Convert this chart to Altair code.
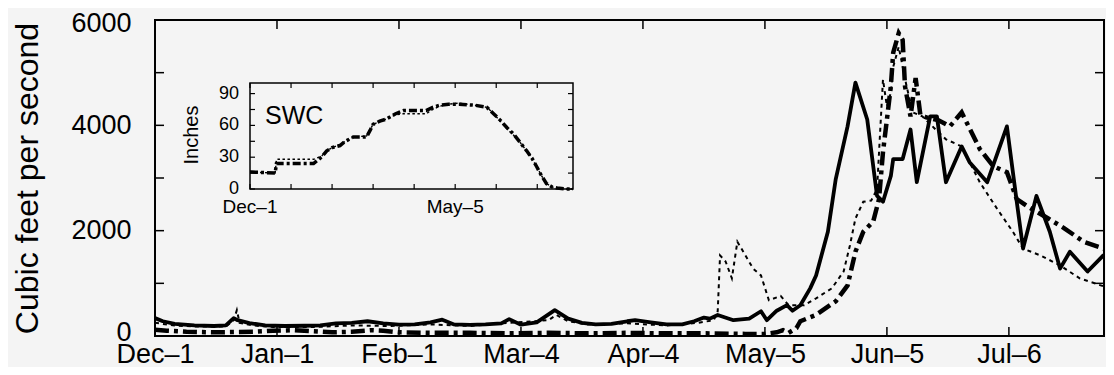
import json
import altair as alt
import pandas as pd

FONT = "Liberation Sans"

# ---- main chart: x ticks (days since Dec-1) and labels ----
tick_days = [0, 31, 62, 93, 124, 155, 186, 217]
tick_labels = ["Dec–1", "Jan–1", "Feb–1", "Mar–4", "Apr–4", "May–5", "Jun–5", "Jul–6"]
y_label_values = [0, 2000, 4000, 6000]
y_tick_values = [0, 1000, 2000, 3000, 4000, 5000, 6000]

# ---- solid series (cfs) ----
solid_day = [0, 2, 5, 10, 15, 18, 20, 21, 24, 28, 33, 38, 42, 46, 50, 54, 58, 62, 66, 70,
             73, 76, 80, 84, 88, 90, 93, 97, 101.6, 105, 108.5, 112, 116, 120, 122, 126, 130,
             134, 137, 139.5, 141, 143, 147, 151, 154, 155.5, 158, 160.6, 162, 164, 166.5,
             168, 171, 173, 176, 178, 181, 183.5, 185, 187, 187.6, 190, 192, 193.6, 197,
             198.7, 201, 205, 207, 211.5, 216.5, 219, 220.6, 224, 227.4, 230, 232.5, 237,
             241, 243.7]
solid_cfs = [340, 280, 230, 200, 190, 200, 340, 300, 245, 200, 190, 195, 200, 240, 250, 280,
             240, 215, 220, 260, 310, 220, 210, 220, 240, 320, 215, 260, 490, 330, 250, 220,
             230, 280, 300, 260, 220, 220, 280, 350, 330, 400, 300, 330, 470, 300, 480, 585,
             480, 585, 905, 1150, 1980, 2980, 3980, 4810, 4110, 2660, 2550, 3040, 3360, 3360,
             3920, 2920, 4170, 4170, 2920, 3600, 3300, 2920, 3980, 2550, 1660, 2660, 1980,
             1280, 1600, 1225, 1530, 1415]

# ---- bold dash-dot series (cfs) ----
dash_day = [0, 3, 8, 15, 25, 30, 35, 40, 45, 50, 55, 58, 62, 70, 80, 90, 100, 110, 120, 130,
            140, 150, 155, 158, 159.6, 161, 163, 164, 168, 173, 176, 178, 180, 182.5, 184,
            185, 186, 187, 187.6, 189, 190, 190.6, 192, 193.3, 194.5, 196, 199, 202, 205,
            209.6, 213, 216.5, 219, 222, 227, 231, 236, 241, 243.7]
dash_cfs = [120, 100, 80, 70, 80, 100, 110, 90, 70, 80, 110, 100, 70, 60, 60, 50, 60, 50, 60,
            50, 50, 40, 40, 70, 110, 60, 150, 280, 400, 660, 960, 1600, 1980, 2170, 2600,
            3490, 4110, 4740, 5380, 5750, 5620, 4740, 4170, 4900, 4200, 4150, 4100, 3980,
            4245, 3550, 3225, 3110, 2600, 2450, 2230, 2050, 1790, 1660, 1600]

# ---- thin dotted series (cfs) ----
dot_day = [0, 5, 10, 18, 20, 20.8, 21.5, 25, 30, 40, 50, 60, 70, 80, 90, 100, 102, 105, 110,
           120, 130, 138, 142, 143, 143.6, 145, 146.6, 148, 149.5, 152, 154, 156, 159, 161,
           165, 168, 172, 175, 176.6, 178, 180, 182, 183.5, 184, 185, 186, 187, 187.6, 189,
           191, 192.6, 195, 198, 201, 205, 209.6, 214, 218, 220.6, 225, 230, 235, 241, 243.7]
dot_cfs = [250, 200, 180, 180, 300, 490, 250, 200, 170, 170, 200, 190, 220, 190, 250, 300, 400,
           280, 220, 240, 200, 250, 300, 470, 1530, 1415, 1095, 1790, 1600, 1280, 1150, 680,
           760, 585, 585, 715, 905, 1225, 1720, 2230, 2550, 2570, 2790, 3490, 4870, 4360,
           4620, 5110, 5490, 4740, 4245, 4170, 3950, 3735, 3600, 2920, 2415, 1980, 1660, 1530,
           1340, 1095, 945, 905]

# ---- inset (SWC, inches) ----
swc_dash_day = [0, 1.3, 19, 20, 25, 48, 54, 58, 62, 68, 72, 78, 88, 91, 93, 98, 103, 110, 116,
                133, 138, 143, 150, 158, 170, 179, 184, 189, 194, 199, 204, 209, 213, 216.6,
                220, 224, 228, 232, 238, 244]
swc_dash_in = [16, 16, 15, 24, 24, 24, 30, 36, 39, 41, 45, 49, 49, 56, 61, 64, 66, 71, 74, 74,
               77, 79, 80, 80, 79, 77, 71, 65, 58, 52, 44, 36, 29, 21, 13, 5, 2, 1, 0, 0]
swc_dot_day = [0, 19, 20, 48, 54, 58, 62, 68, 72, 78, 88, 93, 103, 110, 116, 133, 138, 143,
               150, 158, 170, 179, 184, 189, 194, 199, 204, 209, 213, 216.6, 220, 224, 228,
               232, 238, 244]
swc_dot_in = [16, 15, 28, 28, 31, 36, 39, 42, 45, 49, 50, 61, 66, 70, 71, 71, 75, 78, 80, 81,
              79, 77, 71, 64, 57, 51, 44, 36, 29, 21, 13, 5, 2, 1, 0, 0]
inset_y_ticks = [0, 15, 30, 45, 60, 75, 90]
inset_y_labels = [0, 30, 60, 90]
inset_x_ticks = [0, 31, 62, 93, 124, 155, 186, 217]
inset_x_label_days = [0, 155]
inset_x_label_text = ["Dec–1", "May–5"]

# ---------------------------------------------------------------
W, H = 949, 316
X_MAX = 241.17

x_main = alt.Scale(domain=[0, X_MAX], nice=False, zero=False)
y_main = alt.Scale(domain=[0, 6000], nice=False, zero=True)

label_expr = "%s[indexof(%s, datum.value)]" % (
    json.dumps(tick_labels, ensure_ascii=False), json.dumps(tick_days))

x_axis = alt.Axis(values=tick_days, labelExpr=label_expr, title=None, ticks=False, tickSize=0,
                  domain=False, grid=False, labelFontSize=27, labelPadding=5, labelFlush=False,
                  labelOverlap=False, labelColor="black", labelFont=FONT)
y_axis = alt.Axis(values=y_label_values, format="d", title="Cubic feet per second", ticks=False,
                  tickSize=0, domain=False, grid=False, labelFontSize=27, labelPadding=24,
                  labelOffset={"expr": "datum.value == 6000 ? 3 : (datum.value == 0 ? -4 : 0)"},
                  labelColor="black", labelFont=FONT, titleFont=FONT, titleFontSize=32,
                  titleFontWeight="normal", titleColor="black", titleAngle=270,
                  titleAlign="center", titleBaseline="middle", titleX=-128, titleY=158)


def flow_line(days, cfs, **mark):
    df = pd.DataFrame({"day": days, "cfs": cfs})
    return alt.Chart(df).mark_line(color="black", clip=True, **mark).encode(
        x=alt.X("day:Q", scale=x_main, axis=x_axis),
        y=alt.Y("cfs:Q", scale=y_main, axis=y_axis),
    )


dot_line = flow_line(dot_day, dot_cfs, strokeWidth=2, strokeDash=[4, 4])
dash_line = flow_line(dash_day, dash_cfs, strokeWidth=4.5, strokeDash=[14, 5, 4, 5])
solid_line = flow_line(solid_day, solid_cfs, strokeWidth=3.8, strokeJoin="round")

ytick_df = pd.DataFrame({"cfs": y_tick_values})
xtick_df = pd.DataFrame({"day": tick_days})
enc_y = alt.Y("cfs:Q", scale=y_main, axis=y_axis)
enc_x = alt.X("day:Q", scale=x_main, axis=x_axis)
tick_mark = dict(color="black", strokeWidth=1.5)

left_ticks = alt.Chart(ytick_df).mark_rule(**tick_mark).encode(
    y=enc_y, x=alt.value(0), x2=alt.value(9))
right_ticks = alt.Chart(ytick_df).mark_rule(**tick_mark).encode(
    y=enc_y, x=alt.value(W - 9), x2=alt.value(W))
top_ticks = alt.Chart(xtick_df).mark_rule(**tick_mark).encode(
    x=enc_x, y=alt.value(0), y2=alt.value(9))
bottom_ticks = alt.Chart(xtick_df).mark_rule(**tick_mark).encode(
    x=enc_x, y=alt.value(H - 9), y2=alt.value(H))

main = alt.layer(left_ticks, right_ticks, top_ticks, bottom_ticks,
                 dot_line, dash_line, solid_line)

# ---- inset ----
x_in = alt.Scale(domain=[0, 244], range=[95, 418], nice=False, zero=False)
y_in = alt.Scale(domain=[0, 100], range=[169, 63], nice=False, zero=True)
ix = lambda f: alt.X(f, scale=x_in, axis=None)
iy = lambda f: alt.Y(f, scale=y_in, axis=None)

swc_dot = alt.Chart(pd.DataFrame({"iday": swc_dot_day, "inch": swc_dot_in})).mark_line(
    color="black", strokeWidth=1.4, strokeDash=[2.5, 2.5]).encode(x=ix("iday:Q"), y=iy("inch:Q"))
swc_dash = alt.Chart(pd.DataFrame({"iday": swc_dash_day, "inch": swc_dash_in})).mark_line(
    color="black", strokeWidth=3.5, strokeDash=[8, 3, 3, 3]).encode(x=ix("iday:Q"), y=iy("inch:Q"))

frame = alt.Chart(pd.DataFrame({"iday": [0], "iday2": [244], "inch": [0], "inch2": [100]})).mark_rect(
    color="black", fillOpacity=0, stroke="black", strokeWidth=1.5).encode(
    x=ix("iday:Q"), x2="iday2:Q", y=iy("inch:Q"), y2="inch2:Q")

iy_df = pd.DataFrame({"inch": inset_y_ticks})
ix_df = pd.DataFrame({"iday": inset_x_ticks})
in_tick = dict(color="black", strokeWidth=1.2)
in_left = alt.Chart(iy_df).mark_rule(**in_tick).encode(
    y=iy("inch:Q"), x=alt.value(95), x2=alt.value(100))
in_right = alt.Chart(iy_df).mark_rule(**in_tick).encode(
    y=iy("inch:Q"), x=alt.value(413), x2=alt.value(418))
in_bottom = alt.Chart(ix_df).mark_rule(**in_tick).encode(
    x=ix("iday:Q"), y=alt.value(164), y2=alt.value(169))
in_top = alt.Chart(ix_df).mark_rule(**in_tick).encode(
    x=ix("iday:Q"), y=alt.value(63), y2=alt.value(68))

in_ylab = alt.Chart(pd.DataFrame({"inch": inset_y_labels, "txt": [str(v) for v in inset_y_labels]})).mark_text(
    align="right", baseline="middle", fontSize=18, font=FONT, color="black").encode(
    y=iy("inch:Q"), x=alt.value(84), text="txt:N")
in_xlab = alt.Chart(pd.DataFrame({"iday": inset_x_label_days, "txt": inset_x_label_text})).mark_text(
    align="center", baseline="middle", fontSize=19, font=FONT, color="black").encode(
    x=ix("iday:Q"), y=alt.value(187), text="txt:N")
in_title = alt.Chart(pd.DataFrame({"txt": ["Inches"]})).mark_text(
    align="center", baseline="middle", fontSize=20, font=FONT, color="black", angle=270).encode(
    x=alt.value(37), y=alt.value(115), text="txt:N")
in_swc = alt.Chart(pd.DataFrame({"txt": ["SWC"]})).mark_text(
    align="left", baseline="middle", fontSize=25, font=FONT, color="black").encode(
    x=alt.value(110), y=alt.value(96), text="txt:N")

inset = alt.layer(frame, in_left, in_right, in_bottom, in_top, swc_dot, swc_dash,
                  in_ylab, in_xlab, in_title, in_swc)

chart = alt.layer(main, inset).resolve_scale(x="independent", y="independent").properties(
    width=W, height=H,
    padding={"left": 147, "top": 12, "right": 2, "bottom": 31},
    autosize=alt.AutoSizeParams(type="none"),
).configure(font=FONT, background="#f4f4f4").configure_view(stroke="black", strokeWidth=2)

chart.save("out.html", embed_options={"renderer": "svg", "actions": False})
